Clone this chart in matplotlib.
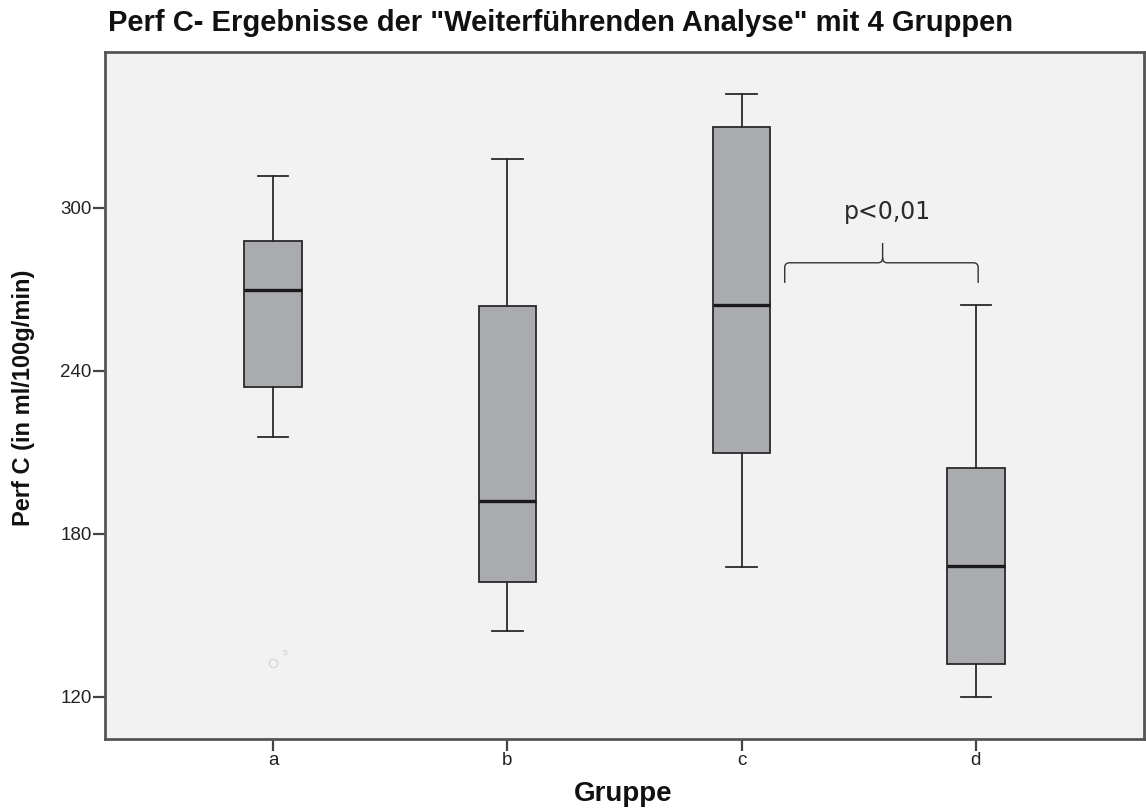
import matplotlib
matplotlib.use("Agg")
import matplotlib.pyplot as plt
from matplotlib.path import Path
from matplotlib.patches import PathPatch

plt.rcParams['font.family'] = ['Liberation Sans', 'DejaVu Sans']

# Werte
gruppen = ["a", "b", "c", "d"]
whisker_unten = [215.7, 144.3, 167.9, 120.0]
q1 = [234.1, 162.3, 209.8, 132.1]
median = [269.8, 192.2, 264.2, 168.2]
q3 = [287.9, 263.9, 329.8, 204.3]
whisker_oben = [311.8, 318.0, 342.0, 264.2]
ausreisser = [[132.5], [], [], []]
ausreisser_label = ["5", "", "", ""]
yticks = [120, 180, 240, 300]
p_text = "p<0,01"

W, H = 1146, 809
fig = plt.figure(figsize=(W / 100, H / 100), dpi=100)
ax = fig.add_axes([105 / W, 1 - 739 / H, (1144 - 105) / W, (739 - 52) / H])
ax.set_facecolor("#f2f2f2")

stats = []
for i in range(len(gruppen)):
    stats.append({
        "whislo": whisker_unten[i], "q1": q1[i], "med": median[i],
        "q3": q3[i], "whishi": whisker_oben[i], "fliers": ausreisser[i],
    })

positionen = list(range(1, len(gruppen) + 1))
ax.bxp(stats, positions=positionen, widths=0.245, patch_artist=True,
       boxprops=dict(facecolor="#a9abae", edgecolor="#2a2a2a", linewidth=1.3),
       medianprops=dict(color="#1a1a1a", linewidth=2.4),
       whiskerprops=dict(color="#2a2a2a", linewidth=1.3),
       capprops=dict(color="#2a2a2a", linewidth=1.3),
       capwidths=0.13,
       flierprops=dict(marker="o", markersize=6, markerfacecolor="none",
                       markeredgecolor="#d8d8d8", markeredgewidth=1.0))

for pos, werte, lab in zip(positionen, ausreisser, ausreisser_label):
    for w in werte:
        ax.text(pos + 0.04, w + 3, lab, fontsize=6, color="#cfcfcf")

ax.set_xlim(0.282, 4.718)
ax.set_ylim(104.5, 357.4)
ax.set_yticks(yticks)
ax.set_xticks(positionen)
ax.set_xticklabels(gruppen)
ax.tick_params(axis="both", direction="out", length=8.5, width=1.6, color="#444444",
               labelsize=13.5, labelcolor="#222222", pad=1)
for s in ax.spines.values():
    s.set_color("#555555")
    s.set_linewidth(2.0)

# Klammer zwischen Gruppe c und d
x0 = positionen[2] + 0.184
x1 = positionen[3] + 0.01
xm = 3.602
y_ende = 272.4
y_mitte = 279.8
y_spitze = 287.1
rx, ry = 0.02, 1.8
verts = [(x0, y_ende), (x0, y_mitte - ry), (x0, y_mitte), (x0 + rx, y_mitte),
         (xm - rx, y_mitte), (xm, y_mitte), (xm, y_mitte + ry), (xm, y_spitze),
         (xm, y_mitte + ry), (xm, y_mitte), (xm + rx, y_mitte),
         (x1 - rx, y_mitte), (x1, y_mitte), (x1, y_mitte - ry), (x1, y_ende)]
codes = [Path.MOVETO, Path.LINETO, Path.CURVE3, Path.CURVE3,
         Path.LINETO, Path.CURVE3, Path.CURVE3, Path.LINETO,
         Path.MOVETO, Path.CURVE3, Path.CURVE3,
         Path.LINETO, Path.CURVE3, Path.CURVE3, Path.LINETO]
ax.add_patch(PathPatch(Path(verts, codes), facecolor="none", edgecolor="#333333", linewidth=1.0))
ax.text(3.623, 298.5, p_text, ha="center", va="center", fontsize=17, color="#2a2a2a",
        family=["DejaVu Sans"])

fig.text(108 / W, 1 - 23 / H, 'Perf C- Ergebnisse der "Weiterführenden Analyse" mit 4 Gruppen',
         ha="left", va="center", fontsize=21, fontweight="bold", color="#111111")
fig.text(24 / W, 1 - 398 / H, "Perf C (in ml/100g/min)", rotation=90, ha="center", va="center",
         fontsize=17, fontweight="bold", color="#111111")
fig.text(623 / W, 1 - 794 / H, "Gruppe", ha="center", va="center",
         fontsize=20, fontweight="bold", color="#111111")

fig.savefig("out.png", dpi=100)
